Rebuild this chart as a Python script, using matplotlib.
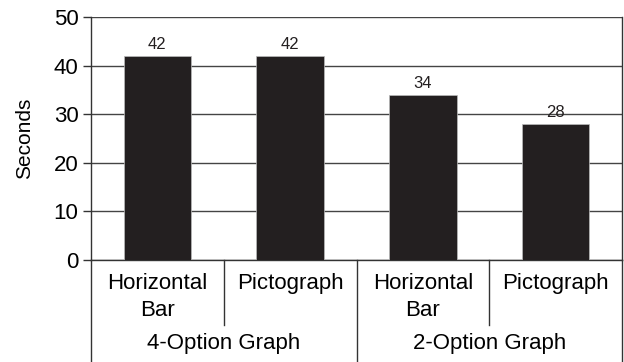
import matplotlib.pyplot as plt

plt.rcParams['font.family'] = ['Liberation Sans', 'DejaVu Sans']

categories = ['Horizontal\nBar', 'Pictograph', 'Horizontal\nBar', 'Pictograph']
groups = ['4-Option Graph', '2-Option Graph']
seconds = [42, 42, 34, 28]
yticks = [0, 10, 20, 30, 40, 50]

fig = plt.figure(figsize=(6.24, 3.62), dpi=100)
W, H = 624, 362
x0, x1, y0, y1 = 91, 622, 260, 17
ax = fig.add_axes([x0 / W, 1 - y0 / H, (x1 - x0) / W, (y0 - y1) / H])

ax.set_xlim(0, len(seconds))
ax.set_ylim(0, 50)
ax.set_yticks(yticks)
ax.yaxis.grid(True, color='#444444', linewidth=1)
ax.set_axisbelow(True)

xs = [i + 0.5 for i in range(len(seconds))]
bars = ax.bar(xs, seconds, width=0.51, color='#231f20', edgecolor='#bbbbbb', linewidth=0.5, zorder=3)
for x, v in zip(xs, seconds):
    ax.text(x, v + 0.8, str(v), ha='center', va='bottom', fontsize=12, color='#231f20')

ax.spines['top'].set_visible(False)
for s in ['left', 'right', 'bottom']:
    ax.spines[s].set_color('#333333')
    ax.spines[s].set_linewidth(1)
ax.set_xticks([])
ax.tick_params(axis='y', length=6, width=1, color='#333333', labelsize=16, pad=3)
ax.set_ylabel('Seconds', fontsize=15, labelpad=14)

# category / group table below the axis
for x, lab in zip(xs, categories):
    ax.text(x, -2.6, lab, ha='center', va='top', fontsize=16, linespacing=1.4,
            clip_on=False)
for j, g in enumerate(groups):
    ax.text(2 * j + 1, -17.2, g, ha='center', va='center', fontsize=16, clip_on=False)

# separators
bottom_full = -(H - y0) / (y0 - y1) * 50
for xv in [0, 2, 4]:
    ax.plot([xv, xv], [0, bottom_full], color='#333333', lw=1, clip_on=False)
for xv in [1, 3]:
    ax.plot([xv, xv], [0, -13.3], color='#333333', lw=1, clip_on=False)

fig.savefig('out.png', dpi=100)
